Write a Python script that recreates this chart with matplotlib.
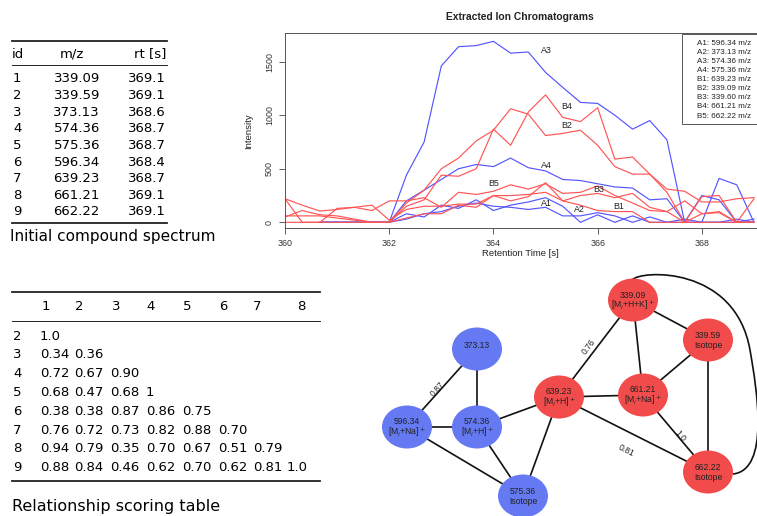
import numpy as np
import matplotlib
matplotlib.use("Agg")
import matplotlib.pyplot as plt
from matplotlib.patches import Ellipse, PathPatch, Rectangle
from matplotlib.path import Path

nan = np.nan

# ---------------- data ----------------
# Table 1: initial compound spectrum
compound_ids = ["1", "2", "3", "4", "5", "6", "7", "8", "9"]
compound_mz = ["339.09", "339.59", "373.13", "574.36", "575.36", "596.34", "639.23", "661.21", "662.22"]
compound_rt = ["369.1", "369.1", "368.6", "368.7", "368.7", "368.4", "368.7", "369.1", "369.1"]

# Table 2: relationship scoring table (lower triangle)
score_rows = ["2", "3", "4", "5", "6", "7", "8", "9"]
score_cols = ["1", "2", "3", "4", "5", "6", "7", "8"]
scores = [
    ["1.0"],
    ["0.34", "0.36"],
    ["0.72", "0.67", "0.90"],
    ["0.68", "0.47", "0.68", "1"],
    ["0.38", "0.38", "0.87", "0.86", "0.75"],
    ["0.76", "0.72", "0.73", "0.82", "0.88", "0.70"],
    ["0.94", "0.79", "0.35", "0.70", "0.67", "0.51", "0.79"],
    ["0.88", "0.84", "0.46", "0.62", "0.70", "0.62", "0.81", "1.0"],
]

# Extracted ion chromatograms
rt_s = [360.00, 360.33, 360.67, 361.00, 361.33, 361.67, 362.00, 362.33, 362.67, 363.00,
        363.33, 363.67, 364.00, 364.33, 364.67, 365.00, 365.33, 365.67, 366.00, 366.33,
        366.67, 367.00, 367.33, 367.67, 368.00, 368.33, 368.67, 369.00]
A1 = [nan, nan, 0, 0, 0, 0, 0, 80, 50, 160, 130, 210, 110, 160, 190, 230, 150, 0, 70, 0, 60, 0, 0, 30, 0, 0, 30, 0]
A2 = [nan, nan, 0, 0, 0, 0, 0, 30, 80, 100, 150, 180, 150, 140, 120, 140, 60, 60, 90, 60, 0, 50, 0, 0, 0, 0, 0, 0]
A3 = [nan, nan, 0, 0, 0, 0, 0, 440, 750, 1460, 1640, 1650, 1690, 1580, 1590, 1400, 1260, 1120, 1110, 1000, 870, 950, 770, 0, 0, 410, 350, 0]
A4 = [nan, nan, 0, 0, 0, 0, 0, 200, 300, 400, 500, 540, 520, 600, 510, 480, 400, 390, 360, 330, 320, 210, 220, 0, 250, 210, 0, 30]
B1 = [60, 60, 60, 40, 20, 0, 0, 40, 80, 80, 160, 140, 250, 200, 240, 370, 200, 160, 110, 100, 100, 0, 0, 0, 0, 0, 0, 0]
B2 = [50, 110, 70, 60, 30, 0, 0, 180, 300, 500, 600, 760, 860, 1060, 1010, 810, 830, 860, 720, 520, 450, 450, 310, 290, 190, 190, 220, 230]
B3 = [220, 160, 105, 120, 140, 160, 20, 120, 150, 150, 170, 170, 250, 250, 260, 280, 200, 250, 270, 230, 270, 140, 100, 200, 80, 100, 0, 0]
B4 = [0, 0, 0, 0, 0, 0, 0, 150, 210, 440, 430, 500, 870, 720, 1030, 1190, 980, 940, 1070, 590, 610, 450, 280, 0, 240, 250, 0, 220]
B5 = [220, 0, 0, 130, 140, 110, 200, 200, 230, 140, 280, 260, 290, 350, 310, 360, 270, 280, 340, 250, 180, 110, 100, 0, 80, 90, 0, 0]
series_names = ["A1", "A2", "A3", "A4", "B1", "B2", "B3", "B4", "B5"]
series_values = [A1, A2, A3, A4, B1, B2, B3, B4, B5]
series_mz = ["596.34", "373.13", "574.36", "575.36", "639.23", "339.09", "339.60", "661.21", "662.22"]
label_pos = {"A3": (365.01, 1600), "B4": (365.41, 1080), "B2": (365.41, 900), "A4": (365.01, 535),
             "B5": (364.01, 361), "B3": (366.02, 302), "A1": (365.01, 171), "A2": (365.66, 121),
             "B1": (366.41, 152)}

# Network graph
node_labels = ["373.13", "596.34", "574.36", "575.36", "639.23", "661.21", "339.09", "339.59", "662.22"]
node_roles = ["", "[M$_i$+Na]$^+$", "[M$_i$+H]$^+$", "Isotope", "[M$_i$+H]$^+$", "[M$_i$+Na]$^+$",
              "[M$_i$+H+K]$^+$", "Isotope", "Isotope"]
node_group = ["A", "A", "A", "A", "B", "B", "B", "B", "B"]
node_xy = [(477, 349), (407, 427), (477, 427), (523, 496), (559, 397), (643, 395),
           (633, 300), (708, 340), (708, 472)]
edges = [("373.13", "596.34", "0.87"), ("373.13", "574.36", ""), ("596.34", "574.36", ""),
         ("596.34", "575.36", ""), ("574.36", "575.36", ""), ("574.36", "639.23", ""),
         ("575.36", "639.23", ""), ("639.23", "339.09", "0.76"), ("639.23", "661.21", ""),
         ("639.23", "662.22", "0.81"), ("339.09", "661.21", ""), ("339.09", "339.59", ""),
         ("339.59", "661.21", ""), ("339.59", "662.22", ""), ("661.21", "662.22", "1.0")]

# ---------------- figure ----------------
W, H = 757, 516
fig = plt.figure(figsize=(W / 100, H / 100), dpi=100)
tfont = "DejaVu Sans"
cfont = "Liberation Sans"

blue_line = "#5555ff"
red_line = "#ff5555"

# Chromatogram axes (pixel geometry)
px_left, px_right, px_top, px_bot = 285, 780, 33.3, 228.3
ax = fig.add_axes([px_left / W, 1 - px_bot / H, (px_right - px_left) / W, (px_bot - px_top) / H])
for name, vals in zip(series_names, series_values):
    ax.plot(rt_s, vals, color=blue_line if name.startswith("A") else red_line, lw=0.85)
ax.set_xlim(360, 369.5)
ax.set_ylim(-56, 1765)
ax.set_xticks([360, 362, 364, 366, 368])
ax.set_yticks([0, 500, 1000, 1500])
ax.tick_params(labelsize=6.4, length=4, width=0.6, color="#444", pad=4)
for lab in ax.get_xticklabels() + ax.get_yticklabels():
    lab.set_fontfamily(cfont)
    lab.set_color("#333")
for lab in ax.get_yticklabels():
    lab.set_rotation(90)
    lab.set_va("center")
for s in ax.spines.values():
    s.set_color("#555")
    s.set_linewidth(0.7)
ax.set_xlabel("Retention Time [s]", fontsize=6.8, family=cfont, color="#222")
ax.set_ylabel("Intensity", fontsize=6.8, family=cfont, color="#222")
ax.xaxis.set_label_coords((520 - px_left) / (px_right - px_left), -(255 - px_bot) / (px_bot - px_top) + 0.03)
ax.yaxis.set_label_coords(-(px_left - 253) / (px_right - px_left), 0.5)
ax.text((520 - px_left) / (px_right - px_left), (px_bot - 17) / (px_bot - px_top), "Extracted Ion Chromatograms",
        transform=ax.transAxes, ha="center", va="center", fontsize=7.4, fontweight="bold", family=cfont, color="#222")
for name, (tx, ty) in label_pos.items():
    ax.text(tx, ty, name, fontsize=6.4, family=cfont, color="#222", ha="center", va="center")

# Overlay axes in pixel coordinates
ov = fig.add_axes([0, 0, 1, 1])
ov.set_xlim(0, W)
ov.set_ylim(H, 0)
ov.axis("off")

# Legend box
ov.add_patch(Rectangle((681.7, 34), 90, 90, facecolor="white", edgecolor="#555", lw=0.7, zorder=3))
for i, (name, mz) in enumerate(zip(series_names, series_mz)):
    ov.text(697, 43.3 + i * 9.1, f"{name}: {mz} m/z", fontsize=5.8, family=cfont, color="#222",
            ha="left", va="center", zorder=4)

# Table 1
ov.plot([12, 167], [41, 41], color="#222", lw=1.3)
ov.plot([12, 167], [65, 65], color="#222", lw=0.7)
ov.plot([12, 167], [223, 223], color="#222", lw=1.3)
ov.text(12, 54, "id", fontsize=9.5, family=tfont, ha="left", va="center")
ov.text(72, 54, "m/z", fontsize=9.5, family=tfont, ha="center", va="center")
ov.text(166, 54, "rt [s]", fontsize=9.5, family=tfont, ha="right", va="center")
for i, (cid, mz, rt) in enumerate(zip(compound_ids, compound_mz, compound_rt)):
    y = 79 + 16.6 * i
    ov.text(13, y, cid, fontsize=9.5, family=tfont, ha="left", va="center")
    ov.text(100, y, mz, fontsize=9.5, family=tfont, ha="right", va="center")
    ov.text(166, y, rt, fontsize=9.5, family=tfont, ha="right", va="center")
ov.text(10, 237, "Initial compound spectrum", fontsize=11, family=tfont, ha="left", va="center")

# Table 2
ov.plot([12, 320], [292, 292], color="#222", lw=1.3)
ov.plot([12, 320], [321, 321], color="#222", lw=0.7)
ov.plot([12, 320], [481, 481], color="#222", lw=1.3)
col_x = [40, 74, 110, 146, 182, 218, 253, 287]
head_x = [46, 79, 116, 151, 187, 223, 257, 301]
for cx, c in zip(head_x, score_cols):
    ov.text(cx, 307, c, fontsize=9.5, family=tfont, ha="center", va="center")
for i, (r, vals) in enumerate(zip(score_rows, scores)):
    y = 336 + 18.8 * i
    ov.text(13, y, r, fontsize=9.5, family=tfont, ha="left", va="center")
    for cx, v in zip(col_x, vals):
        ov.text(cx, y, v, fontsize=9.5, family=tfont, ha="left", va="center")
ov.text(12, 507, "Relationship scoring table", fontsize=11.5, family=tfont, ha="left", va="center")

# Network graph
pos = dict(zip(node_labels, node_xy))
for a, b, lab in edges:
    (x0, y0), (x1, y1) = pos[a], pos[b]
    ov.plot([x0, x1], [y0, y1], color="#111", lw=1.2, zorder=2)
edge_label_xy = {"0.87": (437, 389, 48), "0.76": (589, 347, 53), "0.81": (626, 451, -27), "1.0": (680, 436, -50)}
for a, b, lab in edges:
    if lab:
        lx, ly, rot = edge_label_xy[lab]
        ov.text(lx, ly, lab, fontsize=6.2, family=cfont, color="#222", rotation=rot,
                ha="center", va="center", zorder=3)
# curved edge 339.09 - 662.22
arc = Path([(632, 280), (640, 270), (735, 265), (750, 350),
            (757, 390), (770, 470), (733, 474)],
           [Path.MOVETO, Path.CURVE4, Path.CURVE4, Path.CURVE4,
            Path.CURVE4, Path.CURVE4, Path.CURVE4])
ov.add_patch(PathPatch(arc, facecolor="none", edgecolor="#111", lw=1.2, zorder=2))

node_colors = {"A": "#6479f2", "B": "#f24b4b"}
for lab, role, grp, (x, y) in zip(node_labels, node_roles, node_group, node_xy):
    ov.add_patch(Ellipse((x, y), 50, 43, facecolor=node_colors[grp], edgecolor="none", zorder=4))
    if role:
        ov.text(x, y - 5, lab, fontsize=6.2, family=cfont, color="#222", ha="center", va="center", zorder=5)
        ov.text(x, y + 5.5, role, fontsize=6.2, family=cfont, color="#222", ha="center", va="center", zorder=5)
    else:
        ov.text(x, y - 3, lab, fontsize=6.2, family=cfont, color="#222", ha="center", va="center", zorder=5)

fig.savefig("out.png", dpi=100)
